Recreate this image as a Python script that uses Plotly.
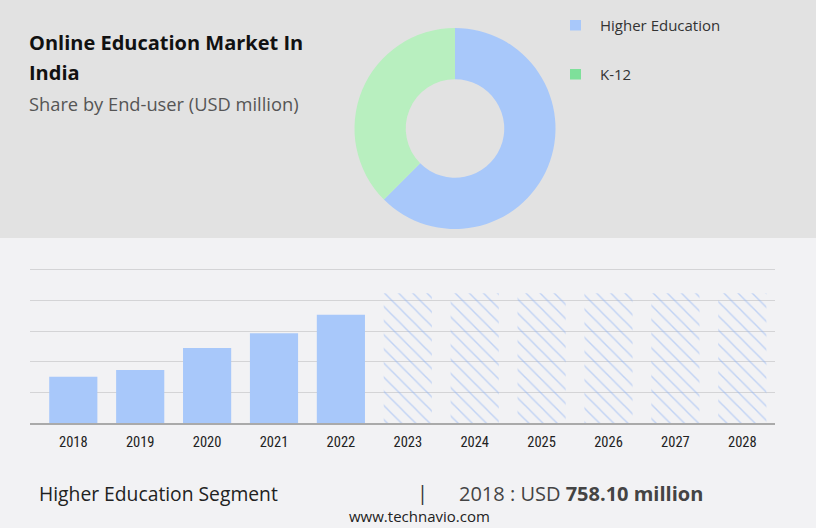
import plotly.graph_objects as go

# ---- data ----
years_hist = [2018, 2019, 2020, 2021, 2022]
values_hist = [758.1, 870, 1230, 1470, 1770]
years_fc = [2023, 2024, 2025, 2026, 2027, 2028]
values_fc = [2120, 2120, 2120, 2120, 2120, 2120]
pie_labels = ["Higher Education", "K-12"]
pie_values = [62.5, 37.5]
pie_colors = ["#a8c8fa", "#b8efbf"]
legend_colors = ["#a8c8fa", "#7ee09a"]
tick_years = years_hist + years_fc

W, H = 816, 528
def py(px):
    return 1 - px / H
def pxx(px):
    return px / W

TOP_BG = "#e2e2e2"
BOT_BG = "#f2f2f4"
BAR = "#a8c8fa"

fig = go.Figure()

fig.add_trace(go.Bar(
    x=years_hist, y=values_hist, marker=dict(color=BAR, line=dict(width=0)),
    width=0.72, showlegend=False, hoverinfo="skip"))

fig.add_trace(go.Bar(
    x=years_fc, y=values_fc, width=0.72, showlegend=False, hoverinfo="skip",
    marker=dict(color="rgba(0,0,0,0)", line=dict(width=0),
                pattern=dict(shape="\\", fgcolor="#8fb3f5", bgcolor="rgba(0,0,0,0)",
                             size=10, solidity=0.14, fillmode="overlay"))))

fig.add_trace(go.Pie(
    labels=pie_labels, values=pie_values, hole=0.49, sort=False,
    direction="clockwise", rotation=0,
    marker=dict(colors=pie_colors, line=dict(width=0)),
    textinfo="none", showlegend=False, hoverinfo="skip",
    domain=dict(x=[pxx(354), pxx(556)], y=[py(229), py(28)])))

# axis geometry
x_left_px, x_right_px = 30, 775
scale = 66.9
x0 = 2018 - (73.3 - x_left_px) / scale
x1 = 2028 + (x_right_px - 742.3) / scale
base_px = 423.3
ppu = 153.3 / 2500
ymax = 2600
top_px = base_px - ymax * ppu

fig.update_layout(
    width=W, height=H, margin=dict(l=0, r=0, t=0, b=0),
    paper_bgcolor=BOT_BG, plot_bgcolor="rgba(0,0,0,0)",
    bargap=0.28,
    xaxis=dict(domain=[pxx(x_left_px), pxx(x_right_px)], range=[x0, x1],
               tickmode="array", tickvals=tick_years, ticktext=[str(y) for y in tick_years],
               showgrid=False, showline=True, linecolor="#aaaaaa", linewidth=1.5,
               ticks="outside", ticklen=5, tickcolor="rgba(0,0,0,0)",
               tickfont=dict(family="Liberation Sans Narrow, Roboto Condensed, Roboto, Arial", size=14.5, color="#222"),
               fixedrange=True),
    yaxis=dict(domain=[py(base_px), py(top_px)], range=[0, ymax], dtick=500,
               showticklabels=False, showgrid=True, gridcolor="#d4d4d6", gridwidth=1,
               zeroline=False, fixedrange=True),
    shapes=[
        dict(type="rect", xref="paper", yref="paper", x0=0, x1=1, y0=py(238), y1=1,
             fillcolor=TOP_BG, line=dict(width=0), layer="below"),
        dict(type="rect", xref="paper", yref="paper", x0=pxx(570), x1=pxx(581), y0=py(30.5), y1=py(20),
             fillcolor=legend_colors[0], line=dict(width=0)),
        dict(type="rect", xref="paper", yref="paper", x0=pxx(570), x1=pxx(581), y0=py(79.5), y1=py(69),
             fillcolor=legend_colors[1], line=dict(width=0)),
    ],
)

ann = []
def add(text, x, y, size, color="#222", family="Open Sans", xanchor="left"):
    ann.append(dict(text=text, x=pxx(x), y=py(y), xref="paper", yref="paper",
                    xanchor=xanchor, yanchor="middle", showarrow=False,
                    font=dict(family=family, size=size, color=color)))

add("<b>Online Education Market In</b>", 27, 43, 20, "#111")
add("<b>India</b>", 27, 72, 20, "#111")
add("Share by End-user (USD million)", 27, 103, 18.3, "#555")
add(pie_labels[0], 598, 25, 15, "#333")
add(pie_labels[1], 598, 74, 15, "#333")
add("Higher Education Segment", 37, 493, 19.3, "#222")
add("|", 422, 492, 20, "#333", xanchor="center")
add("2018 : USD <b>758.10 million</b>", 457, 493, 20, "#444")
add("www.technavio.com", 420, 516, 15, "#222", xanchor="center")

fig.update_layout(annotations=ann)
fig.write_html("out.html", config={"displayModeBar": False},
               post_script="document.body.style.margin='0';document.body.style.overflow='hidden';")
